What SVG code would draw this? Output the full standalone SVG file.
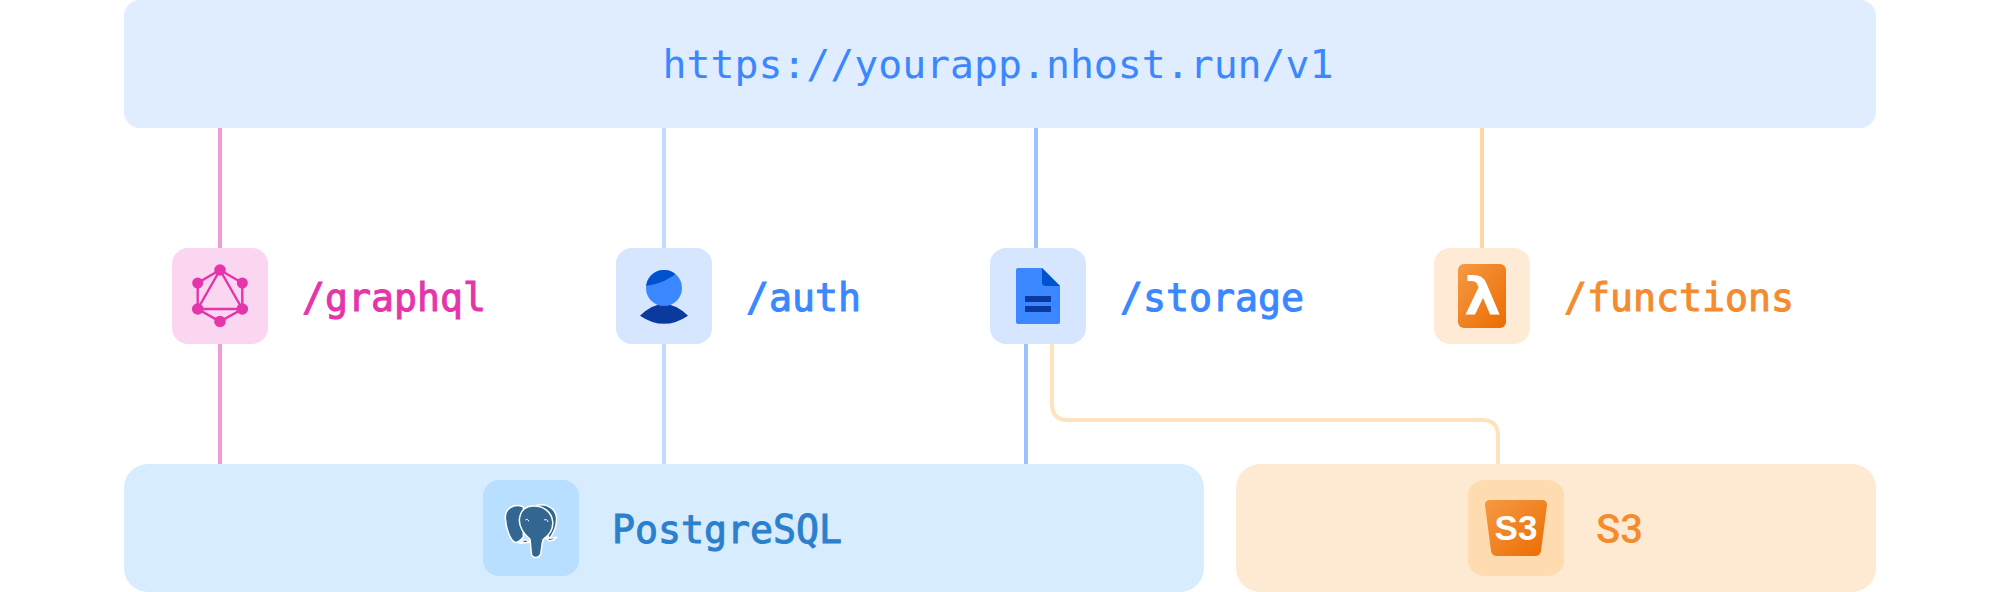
<svg xmlns="http://www.w3.org/2000/svg" width="2000" height="592" viewBox="0 0 2000 592">
<defs>
<linearGradient id="og" x1="0" y1="0" x2="1" y2="1"><stop offset="0" stop-color="#F59A45"/><stop offset="1" stop-color="#EC6C00"/></linearGradient>
<clipPath id="head"><circle cx="664" cy="288" r="18"/></clipPath>
</defs>
<style>
.t{font-family:"DejaVu Sans Mono","Liberation Mono",monospace;font-size:39.800px}
.m{font-size:38.200px;stroke-width:1px}
.r{font-family:Roboto,"Liberation Sans",sans-serif;font-size:40px;font-weight:500}
.l{fill:none;stroke-width:4}
</style>
<rect width="2000" height="592" fill="#fff"/>
<g id="connectors">
<path class="l" stroke="#F09BD6" d="M220 128V248M220 344V464"/>
<path class="l" stroke="#C3DAFF" d="M664 128V248M664 344V464"/>
<path class="l" stroke="#9CC2FF" d="M1036 128V248M1026 344V464"/>
<path class="l" stroke="#FFD7A0" d="M1482 128V248"/>
<path class="l" stroke="#FFE3BC" d="M1052 344V404Q1052 420 1068 420H1482Q1498 420 1498 436V464"/>
</g>
<g id="gateway">
<rect x="124" y="0" width="1752" height="128" rx="16" fill="#E0ECFF"/>
<text class="t" x="998" y="78" text-anchor="middle" fill="#3A87FF">https://yourapp.nhost.run/v1</text>
</g>
<g id="graphql">
<rect x="172" y="248" width="96" height="96" rx="16" fill="#FAD6F0"/>
<path d="M220 270L242.300 283V309L220 321.500L197.700 309V283ZM220 270L242.300 309H197.700Z" fill="none" stroke="#E535AB" stroke-width="2.400"/>
<g fill="#E535AB"><circle cx="220" cy="270" r="5.800"/><circle cx="197.700" cy="283" r="5.500"/><circle cx="242.300" cy="283" r="5.500"/><circle cx="197.700" cy="309" r="5.800"/><circle cx="242.300" cy="309" r="5.800"/><circle cx="220" cy="321.500" r="5.800"/></g>
<text class="t m" x="302" y="311" fill="#E535AB" stroke="#E535AB">/graphql</text>
</g>
<g id="auth">
<rect x="616" y="248" width="96" height="96" rx="16" fill="#D6E6FF"/>
<path d="M640 315.700Q652 304 664 304Q676 304 688 315.700Q664 332 640 315.700Z" fill="#0B3A9E"/>
<circle cx="664" cy="288" r="18" fill="#3A87FF"/>
<path d="M640 265H680V270Q665 285 640 286.500Z" fill="#0052CC" clip-path="url(#head)"/>
<text class="t m" x="746" y="311" fill="#3A87FF" stroke="#3A87FF">/auth</text>
</g>
<g id="storage">
<rect x="990" y="248" width="96" height="96" rx="16" fill="#D6E6FF"/>
<path d="M1018 268H1042L1060 286V322Q1060 324 1058 324H1018Q1016 324 1016 322V270Q1016 268 1018 268Z" fill="#3A87FF"/>
<path d="M1042 268L1060 286H1046Q1042 286 1042 282Z" fill="#0052CC"/>
<path d="M1025 296H1051V302H1025ZM1025 306H1051V312H1025Z" fill="#0B3A9E"/>
<text class="t m" x="1120" y="311" fill="#3A87FF" stroke="#3A87FF">/storage</text>
</g>
<g id="functions">
<rect x="1434" y="248" width="96" height="96" rx="16" fill="#FFEAD5"/>
<rect x="1458" y="264" width="48" height="64" rx="6" fill="url(#og)"/>
<text transform="translate(1482.500 314) scale(1.250 1)" text-anchor="middle" font-family="'DejaVu Sans Mono',monospace" font-weight="700" font-size="52" fill="#fff">λ</text>
<text class="t m" x="1564" y="311" fill="#F48C2F" stroke="#F48C2F">/functions</text>
</g>
<g id="postgresql">
<rect x="124" y="464" width="1080" height="128" rx="24" fill="#D7ECFF"/>
<rect x="483" y="480" width="96" height="96" rx="16" fill="#B8DFFF"/>
<g transform="translate(460 460) scale(.33333)" fill="#336791" stroke="#fff" stroke-width="4.500" stroke-linejoin="round">
<path d="M190 140C160 130 135 145 136 175C138 205 150 240 165 247C175 250 182 240 190 232Z"/>
<path d="M232 136C260 130 288 145 290 175C290 200 280 222 268 236L250 200Z"/>
<path d="M210 247L178 250L196 238ZM258 236L290 232Q282 242 268 243Z"/>
<path d="M178 180C180 150 200 136 222 138C250 138 275 155 278 185C280 205 268 225 250 238C245 250 245 270 242 282C238 294 220 296 215 285C212 270 212 250 210 238C195 225 178 205 178 180Z"/>
<path d="M196 180Q205 175 206 184M252 180Q262 176 264 186" fill="none" stroke-width="3"/>
</g>
<text class="t m" x="612" y="543" fill="#2A80CC" stroke="#2A80CC">PostgreSQL</text>
</g>
<g id="s3">
<rect x="1236" y="464" width="640" height="128" rx="24" fill="#FEEAD3"/>
<rect x="1468" y="480" width="96" height="96" rx="16" fill="#FFDBB0"/>
<path d="M1490 500H1542Q1547 500 1547 505L1541 551Q1540 556 1535 556H1497Q1492 556 1491 551L1485 505Q1485 500 1490 500Z" fill="url(#og)"/>
<text x="1516" y="540" text-anchor="middle" font-family="'Liberation Sans',sans-serif" font-weight="700" font-size="35" fill="#fff">S3</text>
<text class="r" x="1596" y="543" fill="#F48C2F">S3</text>
</g>
</svg>
